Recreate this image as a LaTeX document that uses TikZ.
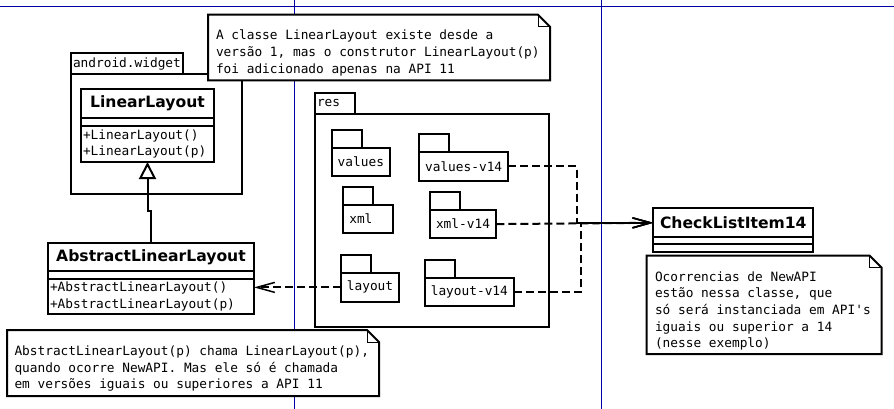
\documentclass[tikz,border=0pt]{standalone}
\usepackage{fontspec}
\setmonofont{DejaVu Sans Mono}
\setsansfont{DejaVu Sans}
\usepackage{tikz}
\usetikzlibrary{arrows.meta,positioning,calc}
\definecolor{pageblue}{RGB}{0,0,165}
\tikzset{
  mono/.style={font=\ttfamily\fontsize{12.8}{16.6}\selectfont},
  pageline/.style={draw=pageblue,line width=1pt},
  pkgbody/.style={draw,anchor=north west,inner sep=0pt},
  pkgtab/.style={draw,mono,anchor=south west,inner xsep=2pt,inner ysep=0pt,
                 align=left,minimum height=20.5},
  fldbody/.style={draw,fill=white,mono,anchor=north west,inner sep=0pt,
                  minimum height=28.2},
  fldtab/.style={draw,anchor=south west,inner sep=0pt,
                 minimum width=30.3,minimum height=18},
  cname/.style={draw,fill=white,anchor=north west,inner sep=0pt,minimum height=28.4,
                font=\sffamily\bfseries\fontsize{15.6}{18}\selectfont},
  cattr/.style={draw,fill=white,anchor=north west,inner sep=0pt,minimum height=8.3},
  cops/.style={draw,fill=white,mono,anchor=north west,align=left,
               inner xsep=2pt,inner ysep=2pt,minimum height=36},
  notebox/.style={anchor=north west,inner sep=0pt},
  notetxt/.style={mono,anchor=north west,align=left,inner sep=0pt},
  notefrm/.style={draw,fill=white},
  dep/.style={dash pattern=on 8pt off 4pt,
              -{Straight Barb[length=18pt,width=10pt,line width=1.5pt]}},
  gen/.style={-{Triangle[open,length=17pt,width=17pt,line width=2pt]}},
}

\begin{document}
\begin{tikzpicture}[x=1pt,y=-1pt,line width=2pt,outer sep=0pt]
  \useasboundingbox (0,0) rectangle (894,409);

  % page breaks
  \draw[pageline] (0,6.5) -- (894,6.5);
  \draw[pageline] (294.5,0) -- (294.5,409);
  \draw[pageline] (601.5,0) -- (601.5,409);

  % package android.widget
  \node[pkgbody,minimum width=171,minimum height=120.3] (widget) at (71,74) {};
  \node[pkgtab,text width=108] (widgettab) at (widget.north west) {android.widget};

  \node[cname,minimum width=133] (ll) at (81,89.3) {LinearLayout};
  \node[cattr,minimum width=133] (llattr) at (ll.south west) {};
  \node[cops,text width=129] (llops) at (llattr.south west)
    {+LinearLayout()\\+LinearLayout(p)};

  \node[cname,minimum width=206,minimum height=27.4] (abs) at (48,243.3) {AbstractLinearLayout};
  \node[cattr,minimum width=206] (absattr) at (abs.south west) {};
  \node[cops,text width=202,minimum height=35] (absops) at (absattr.south west)
    {+AbstractLinearLayout()\\+AbstractLinearLayout(p)};

  % package res
  \node[pkgbody,minimum width=234,minimum height=213.3] (res) at (315,113.7) {};
  \node[pkgtab,text width=36] (restab) at (res.north west) {res};

  \node[fldbody,minimum width=58.3] (val) at (331.7,147.7) {values};
  \node[fldtab] (valtab) at (val.north west) {};
  \node[fldbody,minimum width=89.3] (vv14) at (419,152.3) {values-v14};
  \node[fldtab] (vv14tab) at (vv14.north west) {};
  \node[fldbody,text width=37.4,inner xsep=6.6pt,align=left] (xml) at (342.7,205) {xml};
  \node[fldtab] (xmltab) at (xml.north west) {};
  \node[fldbody,minimum width=66.6] (xv14) at (429.7,210) {xml-v14};
  \node[fldtab] (xv14tab) at (xv14.north west) {};
  \node[fldbody,minimum width=58.6] (lay) at (340.7,273.3) {layout};
  \node[fldtab] (laytab) at (lay.north west) {};
  \node[fldbody,minimum width=89.3] (lv14) at (424.7,278) {layout-v14};
  \node[fldtab] (lv14tab) at (lv14.north west) {};

  % class CheckListItem14
  \node[cname,minimum width=160,minimum height=29] (cli) at (653.3,208.3) {CheckListItem14};
  \node[cattr,minimum width=160,minimum height=7] (cliattr) at (cli.south west) {};
  \node[cattr,minimum width=160,minimum height=8] (cliops) at (cliattr.south west) {};

  % notes
  \node[notebox,minimum width=342,minimum height=65.6] (notell) at (208,14.7) {};
  \node[notebox,minimum width=372,minimum height=66] (noteabs) at (7,330) {};
  \node[notebox,minimum width=235,minimum height=98.3] (notecli) at (646.7,255.7) {};
  \foreach \n in {notell,noteabs,notecli}{
    \draw[notefrm] (\n.north west) -- ([xshift=-12pt]\n.north east)
      -- ([yshift=-12pt]\n.north east) -- (\n.south east) -- (\n.south west) -- cycle;
    \draw[line width=1pt] ([xshift=-12pt]\n.north east) |- ([yshift=-12pt]\n.north east);
  }
  \node[notetxt] (notelltxt) at ([shift={(8pt,-15.5pt)}]notell.north west)
    {A classe LinearLayout existe desde a\\versão 1, mas o construtor LinearLayout(p)\\foi adicionado apenas na API 11};
  \node[notetxt] (noteabstxt) at ([shift={(7.5pt,-16pt)}]noteabs.north west)
    {AbstractLinearLayout(p) chama LinearLayout(p),\\quando ocorre NewAPI. Mas ele só é chamada\\em versões iguais ou superiores a API 11};
  \node[notetxt] (noteclitxt) at ([shift={(8.3pt,-15.8pt)}]notecli.north west)
    {Ocorrencias de NewAPI\\estão nessa classe, que\\só será instanciada em API's\\iguais ou superior a 14\\(nesse exemplo)};

  % connectors
  \coordinate (vbend) at (577,0);
  \coordinate (lbend) at (581,0);
  \draw[gen] (abs.north) -- ++(0,-32) -| (llops.south);
  \draw[dep] (vv14.east) -| (vbend |- cli.west) -- (cli.west);
  \draw[dep] (xv14.east) -- (cli.west);
  \draw[dep] (lv14.east) -| (lbend |- cli.west) -- (cli.west);
  \draw[dep] (lay.west) -- (lay.west -| absops.east);
\end{tikzpicture}
\end{document}
